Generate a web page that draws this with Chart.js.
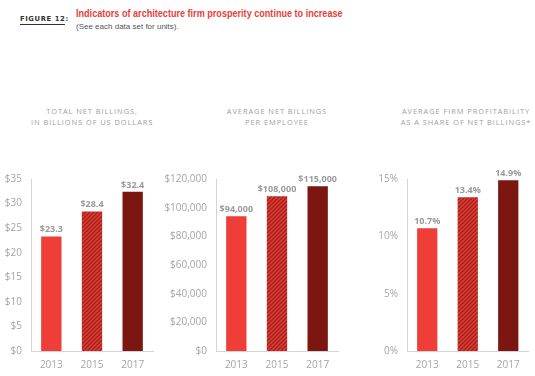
<!DOCTYPE html>
<html><head><meta charset="utf-8">
<script src="https://cdn.jsdelivr.net/npm/chart.js@4/dist/chart.umd.min.js"></script>
<style>
html,body{margin:0;padding:0;background:#fff;width:535px;height:376px;overflow:hidden;position:relative;font-family:Lato,"Open Sans",sans-serif}
.abs{position:absolute}
#fig{left:20px;top:15px;font-family:"DejaVu Sans",sans-serif;font-weight:bold;font-size:6.8px;letter-spacing:0.6px;color:#333}
#fig u{text-decoration:none;border-bottom:1.5px solid #333;padding-bottom:1px}
#ttl{left:76px;top:7px;font-family:"Liberation Sans",sans-serif;font-weight:bold;font-size:11.5px;color:#e8403a;white-space:nowrap;transform:scaleX(0.79);transform-origin:0 0}
#sub{left:76px;top:22px;font-family:"Liberation Sans",sans-serif;font-size:8px;color:#555;white-space:nowrap}
.ct{font-family:"Open Sans",sans-serif;font-size:7.5px;letter-spacing:0.9px;color:#a0a0a0;text-align:center;line-height:11px;top:106px;white-space:nowrap}
canvas{position:absolute}
</style></head><body>
<div id="fig" class="abs"><u>FIGURE 12</u>:</div>
<div id="ttl" class="abs">Indicators of architecture firm prosperity continue to increase</div>
<div id="sub" class="abs">(See each data set for units).</div>
<div class="abs ct" style="left:31px;width:122px">TOTAL NET BILLINGS,<br>IN BILLIONS OF US DOLLARS</div>
<div class="abs ct" style="left:216px;width:122px">AVERAGE NET BILLINGS<br>PER EMPLOYEE</div>
<div class="abs ct" style="left:375px;width:182px">AVERAGE FIRM PROFITABILITY<br>AS A SHARE OF NET BILLINGS*</div>
<div class="abs" style="left:0;top:150px"><canvas id="c1" width="160" height="226" style="width:160px;height:226px"></canvas></div>
<div class="abs" style="left:150px;top:150px"><canvas id="c2" width="195" height="226" style="width:195px;height:226px"></canvas></div>
<div class="abs" style="left:360px;top:150px"><canvas id="c3" width="175" height="226" style="width:175px;height:226px"></canvas></div>
<script>
const years = ['2013', '2015', '2017'];
const billings = [23.3, 28.4, 32.4];
const perEmployee = [94000, 108000, 115000];
const profitability = [10.7, 13.4, 14.9];
const billingsLabels = ['$23.3', '$28.4', '$32.4'];
const perEmployeeLabels = ['$94,000', '$108,000', '$115,000'];
const profitabilityLabels = ['10.7%', '13.4%', '14.9%'];

function hatch(){
  const p = document.createElement('canvas');
  p.width = 4; p.height = 4;
  const g = p.getContext('2d');
  g.fillStyle = '#e23c34'; g.fillRect(0,0,4,4);
  g.strokeStyle = '#9e221b'; g.lineWidth = 1.3;
  g.beginPath();
  g.moveTo(-1,5); g.lineTo(5,-1);
  g.moveTo(-1,1); g.lineTo(1,-1);
  g.moveTo(3,5); g.lineTo(5,3);
  g.stroke();
  return g.createPattern(p,'repeat');
}

const valueLabels = {
  id:'valueLabels',
  afterDatasetsDraw(chart, args, opts){
    const ctx = chart.ctx;
    const meta = chart.getDatasetMeta(0);
    ctx.save();
    ctx.font = 'bold 9px "Open Sans", sans-serif';
    ctx.fillStyle = '#9a9a9a';
    ctx.textAlign = 'center';
    ctx.textBaseline = 'alphabetic';
    meta.data.forEach((bar,i)=>{
      ctx.fillText(opts.labels[i], bar.x, bar.y - 4);
    });
    ctx.restore();
  }
};

function make(id, data, labels, max, step, fmt, yw, padRight){
  new Chart(document.getElementById(id), {
    type:'bar',
    data:{labels:years, datasets:[{data:data, backgroundColor:['#ee3e37', hatch(), '#7b1610'], borderWidth:0, barPercentage:0.5, categoryPercentage:1}]},
    options:{
      responsive:false, animation:false,
      layout:{padding:{top:29, right:padRight, bottom:0, left:0}},
      plugins:{legend:{display:false}, tooltip:{enabled:false}, valueLabels:{labels:labels}},
      scales:{
        x:{grid:{display:false, drawTicks:false}, border:{display:true, color:'#d4d4d4', width:1},
           ticks:{color:'#a5a5a5', font:{family:'Open Sans', size:10}, padding:8},
           afterFit(s){ s.height = 25; }},
        y:{min:0, max:max, grid:{display:false, drawTicks:false}, border:{display:true, color:'#d4d4d4', width:1},
           ticks:{stepSize:step, color:'#a5a5a5', font:{family:'Open Sans', size:10}, padding:9, callback:fmt},
           afterFit(s){ s.width = yw; }}
      }
    },
    plugins:[valueLabels]
  });
}
make('c1', billings, billingsLabels, 35, 5, v=>'$'+v, 31, 7);
make('c2', perEmployee, perEmployeeLabels, 120000, 20000, v=>'$'+v.toLocaleString('en-US'), 66, 7);
make('c3', profitability, profitabilityLabels, 15, 5, v=>v+'%', 47, 6.5);
</script>
</body></html>
